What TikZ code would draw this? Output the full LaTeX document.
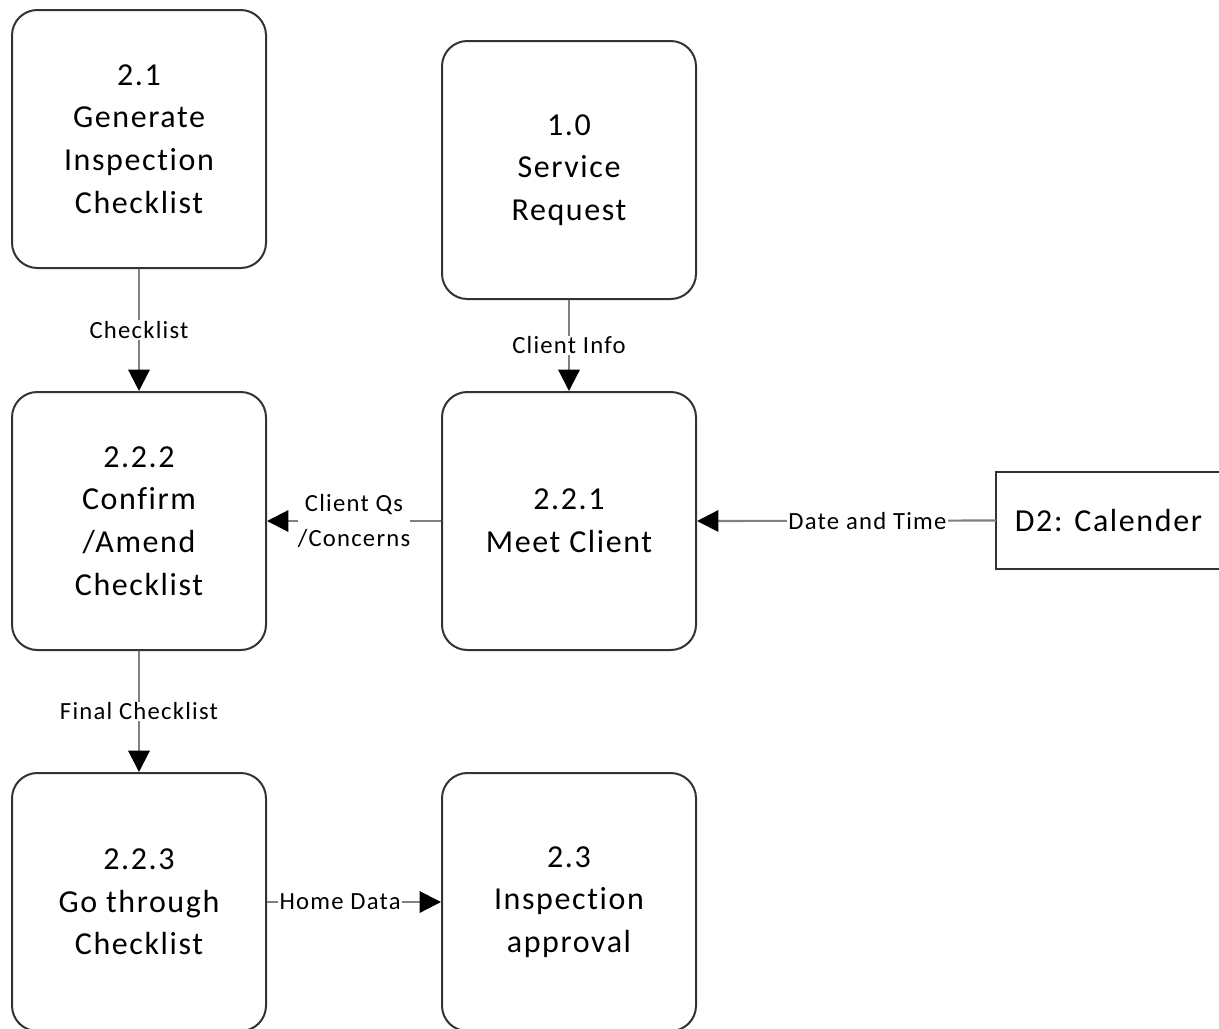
\documentclass[tikz,border=0pt]{standalone}
\usepackage{fontspec}
\setmainfont[Ligatures=NoCommon, LetterSpace=5]{Carlito}
\usetikzlibrary{arrows.meta}
\begin{document}
\begin{tikzpicture}[x=0.75pt,y=-0.75pt,
  proc/.style={draw=black!80, line width=1.5pt, rounded corners=19pt,
    minimum width=190.5pt, minimum height=193.5pt, align=center,
    text=black, font=\fontsize{24}{32}\selectfont, inner sep=0pt},
  flow/.style={draw=black!50, line width=1.6pt,
    -{Triangle[length=16pt,width=16pt,black]}},
  lbl/.style={fill=white, inner sep=1pt, text=black,
    font=\fontsize{18.5}{26}\selectfont, align=center}]
\useasboundingbox (0,0) rectangle (1219,1028);

% processes
\node[proc] (p21)  at (139,139)   {2.1\\Generate\\Inspection\\Checklist};
\node[proc] (p10)  at (569,170)   {1.0\\Service\\Request};
\node[proc] (p222) at (139,521)   {2.2.2\\Confirm\\/Amend\\Checklist};
\node[proc] (p221) at (569,521)   {2.2.1\\Meet Client};
\node[proc] (p223) at (139,902)   {2.2.3\\Go through\\Checklist};
\node[proc] (p23)  at (569,902)   {2.3\\Inspection\\approval};

% data store, open on the right
\draw[draw=black!80, line width=1.5pt] (1219,472) -- (996,472) -- (996,569) -- (1219,569);
\node[anchor=west, inner xsep=14pt, inner ysep=0pt, minimum height=72.75pt,
      text=black, font=\fontsize{24}{32}\selectfont] (d2) at (996,520.5) {D2: Calender};

% data flows
\draw[flow] (p21) -- node[lbl] {Checklist} (p222);
\draw[flow] (p10) -- node[lbl] {Client Info} (p221);
\draw[flow] (p221) -- node[lbl, inner xsep=0pt] {Client Qs\\/Concerns} (p222);
\draw[flow] (d2.west) -- node[lbl, pos=0.43] {Date and Time} (p221.east);
\draw[flow] (p222) -- node[lbl] {Final Checklist} (p223);
\draw[flow] (p223) -- node[lbl, pos=0.42] {Home Data} (p23);
\end{tikzpicture}
\end{document}
